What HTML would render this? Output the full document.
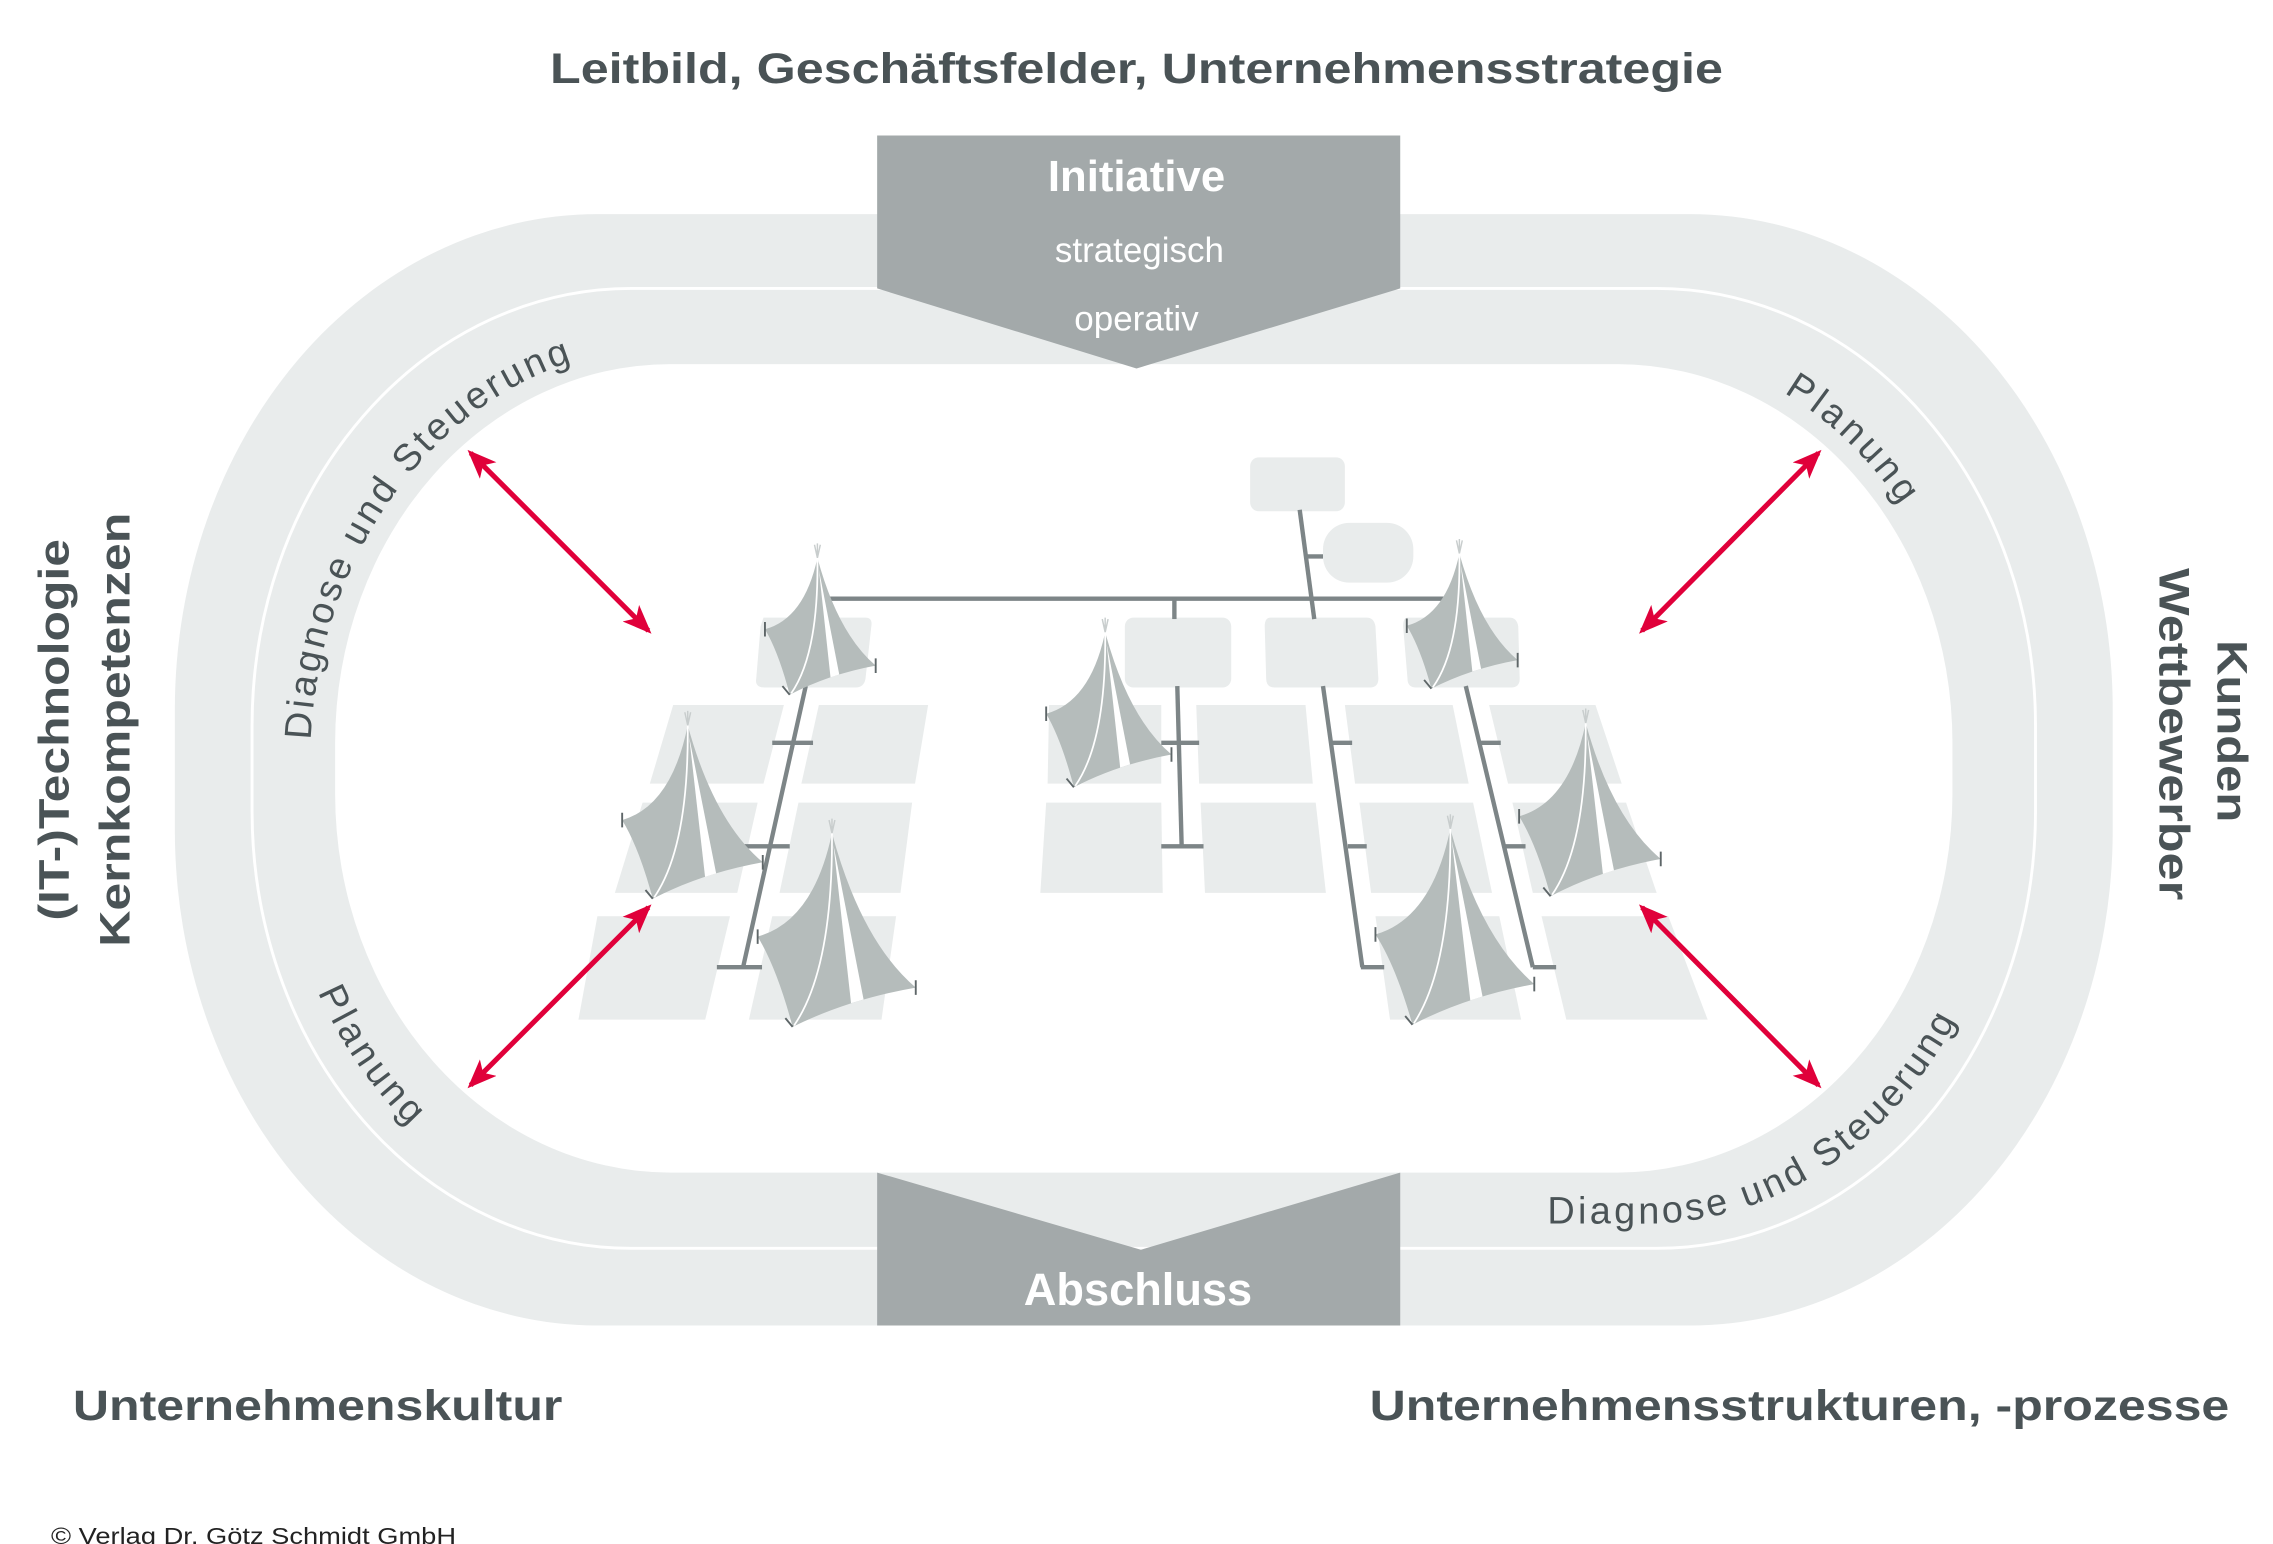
<!DOCTYPE html>
<html><head><meta charset="utf-8"><style>
html,body{margin:0;padding:0;background:#fff}
svg{display:block}
text{font-family:"Liberation Sans",Arial,sans-serif}
</style></head><body>
<svg width="2273" height="1544" viewBox="0 0 1560 1060" preserveAspectRatio="none" xmlns="http://www.w3.org/2000/svg">
<defs>
<marker id="ah" viewBox="0 0 20 16" refX="17" refY="8" markerWidth="20" markerHeight="16" markerUnits="userSpaceOnUse" orient="auto-start-reverse">
<path d="M0 0 L20 8 L0 16 L5 8 Z" fill="#e0003a"/>
</marker>
<path id="pTL" d="M213 530 A245 285 0 0 1 458 238"/>
<path id="pTR" d="M1112 238 A245 285 0 0 1 1357 530"/>
<path id="pBL" d="M190 545 A250 295 0 0 0 440 840"/>
<path id="pBR" d="M1000 840 H1130 A250 295 0 0 0 1380 545"/>
</defs>
<rect width="1560" height="1060" fill="#fff"/>
<path d="M410 147 H1160 A290 340 0 0 1 1450 487 V570 A290 340 0 0 1 1160 910 H410 A290 340 0 0 1 120 570 V487 A290 340 0 0 1 410 147 Z" fill="#e9ecec"/>
<path d="M433 198 H1137 A260 300 0 0 1 1397 498 V557 A260 300 0 0 1 1137 857 H433 A260 300 0 0 1 173 557 V498 A260 300 0 0 1 433 198 Z" fill="none" stroke="#fff" stroke-width="2"/>
<path d="M460 250 H1110 A230 260 0 0 1 1340 510 V545 A230 260 0 0 1 1110 805 H460 A230 260 0 0 1 230 545 V510 A230 260 0 0 1 460 250 Z" fill="#fff"/>

<polygon points="602,93 961,93 961,198 780,253 602,198" fill="#a3a9aa"/>
<polygon points="602,805 783,858 961,805 961,910 602,910" fill="#a3a9aa"/>
<text x="780" y="131" text-anchor="middle" font-size="30" font-weight="bold" fill="#fff">Initiative</text>
<text x="782" y="180" text-anchor="middle" font-size="24" fill="#fff">strategisch</text>
<text x="780" y="227" text-anchor="middle" font-size="24" fill="#fff">operativ</text>
<text x="781" y="896" text-anchor="middle" font-size="31" font-weight="bold" fill="#fff">Abschluss</text>

<g fill="#4a5356">
<text x="780" y="57" text-anchor="middle" font-size="29" font-weight="bold" textLength="805" lengthAdjust="spacingAndGlyphs">Leitbild, Geschäftsfelder, Unternehmensstrategie</text>
<text x="50" y="975" font-size="29" font-weight="bold" textLength="336" lengthAdjust="spacingAndGlyphs">Unternehmenskultur</text>
<text x="940" y="975" font-size="29" font-weight="bold" textLength="590" lengthAdjust="spacingAndGlyphs">Unternehmensstrukturen, -prozesse</text>
<text transform="translate(47,501) rotate(-90)" text-anchor="middle" font-size="29" font-weight="bold" textLength="262" lengthAdjust="spacingAndGlyphs">(IT-)Technologie</text>
<text transform="translate(89,501) rotate(-90)" text-anchor="middle" font-size="29" font-weight="bold" textLength="298" lengthAdjust="spacingAndGlyphs">Kernkompetenzen</text>
<text transform="translate(1522,502) rotate(90)" text-anchor="middle" font-size="29" font-weight="bold" textLength="125" lengthAdjust="spacingAndGlyphs">Kunden</text>
<text transform="translate(1482,504) rotate(90)" text-anchor="middle" font-size="29" font-weight="bold" textLength="228" lengthAdjust="spacingAndGlyphs">Wettbewerber</text>
<text x="35" y="1060" font-size="16" fill="#222" textLength="278" lengthAdjust="spacingAndGlyphs">© Verlag Dr. Götz Schmidt GmbH</text>
<text font-size="26"><textPath href="#pTL" startOffset="22" textLength="335" lengthAdjust="spacing">Diagnose und Steuerung</textPath></text>
<text font-size="26"><textPath href="#pTR" startOffset="118" textLength="112" lengthAdjust="spacing">Planung</textPath></text>
<text font-size="26"><textPath href="#pBL" startOffset="140" textLength="112" lengthAdjust="spacing">Planung</textPath></text>
<text font-size="26"><textPath href="#pBR" startOffset="62" textLength="335" lengthAdjust="spacing">Diagnose und Steuerung</textPath></text>
</g>

<!-- boxes -->
<g fill="#e9ecec">
<rect x="858" y="314" width="65" height="37" rx="6"/>
<rect x="908" y="359" width="62" height="41" rx="18"/>
<path d="M524 424 H594 Q599 424 598 430 L594 466 Q593 472 587 472 H525 Q518 472 519 466 L522 430 Z"/>
<rect x="772" y="424" width="73" height="48" rx="6"/>
<path d="M872 424 H938 Q943 424 944 430 L946 466 Q946 472 940 472 H875 Q869 472 869 466 L868 430 Q868 424 872 424 Z"/>
<path d="M966 424 H1036 Q1041 424 1042 430 L1043 466 Q1043 472 1037 472 H972 Q966 472 966 466 L963 430 Q963 424 966 424 Z"/>
<polygon points="462,484 538,484 524,538 446,538"/>
<polygon points="562,484 637,484 628,538 550,538"/>
<polygon points="720,484 797,484 797,538 719,538"/>
<polygon points="821,484 896,484 901,538 823,538"/>
<polygon points="923,484 997,484 1008,538 930,538"/>
<polygon points="1022,484 1095,484 1113,538 1035,538"/>
<polygon points="441,551 520,551 506,613 422,613"/>
<polygon points="548,551 626,551 618,613 535,613"/>
<polygon points="718,551 797,551 798,613 714,613"/>
<polygon points="824,551 903,551 910,613 827,613"/>
<polygon points="933,551 1011,551 1024,613 941,613"/>
<polygon points="1038,551 1116,551 1137,613 1052,613"/>
<polygon points="410,629 501,629 484,700 397,700"/>
<polygon points="530,629 615,629 605,700 514,700"/>
<polygon points="944,629 1029,629 1044,700 954,700"/>
<polygon points="1058,629 1145,629 1172,700 1075,700"/>
</g>
<!-- lines -->
<g stroke="#7d8587" stroke-width="3" fill="none">
<line x1="568" y1="411" x2="992" y2="411"/>
<line x1="806" y1="411" x2="806" y2="425"/>
<line x1="892" y1="350" x2="902" y2="425"/>
<line x1="896" y1="382" x2="908" y2="382"/>
<line x1="553" y1="471" x2="510" y2="664"/>
<line x1="530" y1="510" x2="558" y2="510"/>
<line x1="511" y1="581" x2="542" y2="581"/>
<line x1="492" y1="664" x2="523" y2="664"/>
<line x1="808" y1="471" x2="811" y2="581"/>
<line x1="797" y1="510" x2="823" y2="510"/>
<line x1="797" y1="581" x2="826" y2="581"/>
<line x1="908" y1="471" x2="935" y2="664"/>
<line x1="914" y1="510" x2="928" y2="510"/>
<line x1="925" y1="581" x2="938" y2="581"/>
<line x1="934" y1="664" x2="950" y2="664"/>
<line x1="1006" y1="471" x2="1052" y2="664"/>
<line x1="1016" y1="510" x2="1030" y2="510"/>
<line x1="1033" y1="581" x2="1047" y2="581"/>
<line x1="1052" y1="664" x2="1068" y2="664"/>
</g>
<!-- tents -->
<g fill="#b5bcbb">
<path d="M561 383 Q552 424.7 525 432 Q534.4 447.8 542 477 Q568.6 463 601 457 Q575 434.8 561 383 Z"/>
<path d="M472 498 Q460.75 553.25 427 563 Q438.55 581.9 448 617 Q481.98 599.5 523.5 592 Q490.03 563.8 472 498 Z"/>
<path d="M571 572 Q558.25 632.35 520 643 Q533.2 664.7 544 705 Q582.03 686.1 628.5 678 Q591.13 646.2 571 572 Z"/>
<path d="M758.5 434 Q748.4 481.6 718 490 Q728.45 507.7 737 540.5 Q767.15 524.75 804 518 Q774.4 492.8 758.5 434 Z"/>
<path d="M1001.6 380 Q992.6 422.2 965.5 429.6 Q974.8 444.7 982.4 472.8 Q1009 459.1 1041.6 453.2 Q1015.6 431.2 1001.6 380 Z"/>
<path d="M1088.3 496.4 Q1076.9 550.8 1042.6 560.4 Q1054.5 579.6 1064.2 615.3 Q1098.2 597.4 1139.8 589.7 Q1106.3 561.7 1088.3 496.4 Z"/>
<path d="M995.4 569 Q982.55 630.6 944 641.5 Q958 663.2 969.4 703.5 Q1007 684 1053 675.6 Q1015.6 643.6 995.4 569 Z"/>
</g>
<g fill="#fff">
<path d="M562 391 L570 465 L576 463.1 Z"/>
<path d="M473 506 L483.9 602 L491.5 599.6 Z"/>
<path d="M572 580 L584.1 688.8 L592.7 686.2 Z"/>
<path d="M759.5 442 L768.8 527 L775.6 524.8 Z"/>
<path d="M1002.6 388 L1010.5 461 L1016.5 459.2 Z"/>
<path d="M1089.3 504.4 L1100.1 599.9 L1107.7 597.5 Z"/>
<path d="M996.4 577 L1009.1 686.8 L1017.5 684.1 Z"/>
</g>
<g stroke="#fff" stroke-width="1.2" fill="none">
<path d="M561 383 Q562 448.8 543 476"/>
<path d="M472 498 Q472.8 581.3 449 616"/>
<path d="M571 572 Q571.65 665.1 545 704"/>
<path d="M758.5 434 Q759.4 508.6 738 539.5"/>
<path d="M1001.6 380 Q1002.6 445 983.4 471.8"/>
<path d="M1088.3 496.4 Q1089.1 579.7 1065.2 614.3"/>
<path d="M995.4 569 Q996.1 663.2 970.4 702.5"/>
</g>
<g stroke="#c8cdcd" stroke-width="1" fill="none">
<path d="M561 383 l-2 -9 M561 383 v-10 M561 383 l2 -9"/>
<path d="M472 498 l-2 -9 M472 498 v-10 M472 498 l2 -9"/>
<path d="M571 572 l-2 -9 M571 572 v-10 M571 572 l2 -9"/>
<path d="M758.5 434 l-2 -9 M758.5 434 v-10 M758.5 434 l2 -9"/>
<path d="M1001.6 380 l-2 -9 M1001.6 380 v-10 M1001.6 380 l2 -9"/>
<path d="M1088.3 496.4 l-2 -9 M1088.3 496.4 v-10 M1088.3 496.4 l2 -9"/>
<path d="M995.4 569 l-2 -9 M995.4 569 v-10 M995.4 569 l2 -9"/>
</g>
<g stroke="#5e6668" stroke-width="1.3" fill="none">
<path d="M525 427 v10 M601 452 v10 M537 471 l5 6"/>
<path d="M427 558 v10 M523.5 587 v10 M443 611 l5 6"/>
<path d="M520 638 v10 M628.5 673 v10 M539 699 l5 6"/>
<path d="M718 485 v10 M804 513 v10 M732 534.5 l5 6"/>
<path d="M965.5 424.6 v10 M1041.6 448.2 v10 M977.4 466.8 l5 6"/>
<path d="M1042.6 555.4 v10 M1139.8 584.7 v10 M1059.2 609.3 l5 6"/>
<path d="M944 636.5 v10 M1053 670.6 v10 M964.4 697.5 l5 6"/>
</g>
<!-- arrows -->
<g stroke="#e0003a" stroke-width="3.5" marker-start="url(#ah)" marker-end="url(#ah)">
<line x1="323" y1="311" x2="445" y2="433"/>
<line x1="1248" y1="311" x2="1127" y2="433"/>
<line x1="323" y1="745" x2="445" y2="623"/>
<line x1="1248" y1="745" x2="1127" y2="623"/>
</g>
</svg>
</body></html>
